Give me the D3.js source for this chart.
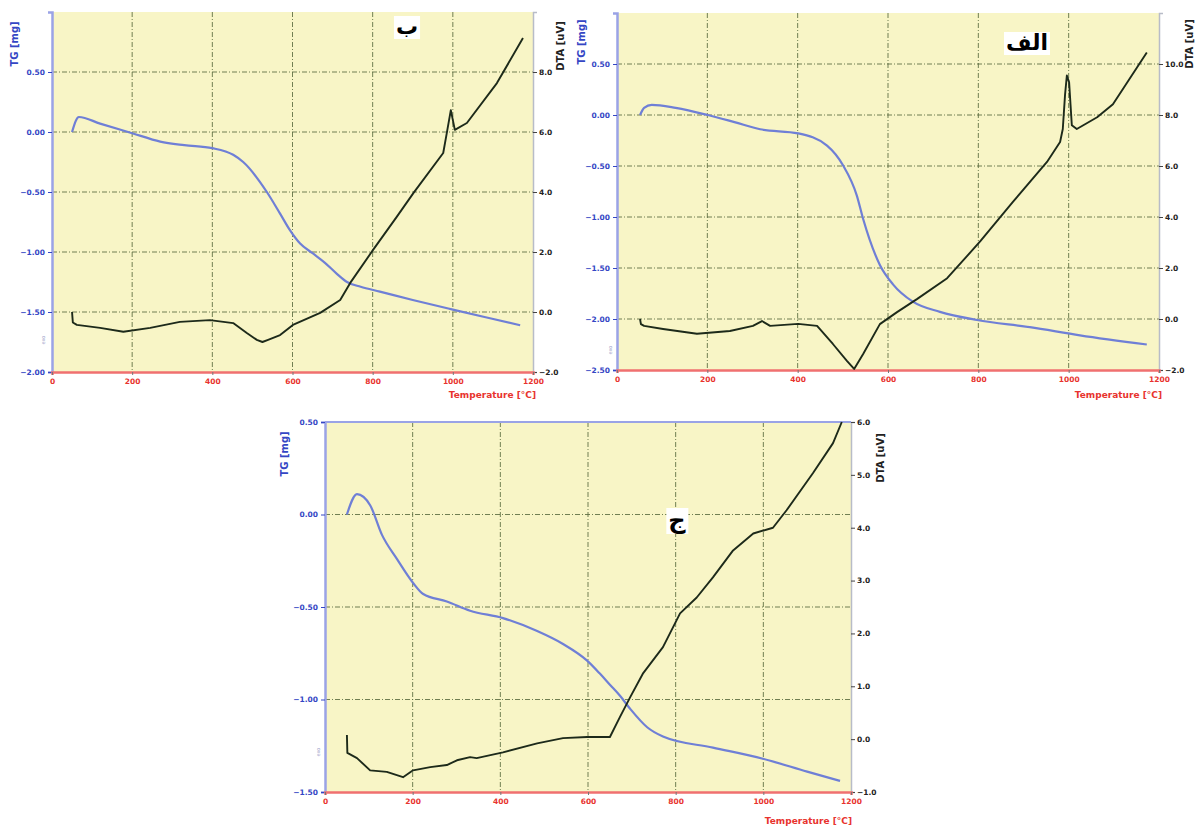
<!DOCTYPE html>
<html>
<head>
<meta charset="utf-8">
<script src="https://cdn.jsdelivr.net/npm/d3@7"></script>
<style>
  html, body { margin: 0; padding: 0; background: #ffffff; }
  svg { display: block; }
  text { font-family: "DejaVu Sans", "Liberation Sans", sans-serif; }
</style>
</head>
<body>
<svg id="chart" width="1201" height="828"></svg>
<script>
// ---------------- DATA ----------------
// Panel labels
const panelLabels = ["ب", "الف", "ج"];
const xTickValues = [0, 200, 400, 600, 800, 1000, 1200];
const xTitle = "Temperature [°C]";
const tgTitle = "TG [mg]";
const dtaTitle = "DTA [uV]";

// Panel ب (top-left)
const tgTicksB  = [-2.0, -1.5, -1.0, -0.5, 0.0, 0.5];
const dtaTicksB = [-2, 0, 2, 4, 6, 8];
const tgTempB = [50, 67, 120, 200, 270, 330, 400, 452, 477, 536, 569, 594, 619, 650, 681, 710, 736, 770, 818, 900, 1000, 1090, 1168];
const tgValB  = [0.00, 0.125, 0.07, -0.01, -0.08, -0.11, -0.135, -0.19, -0.25, -0.50, -0.68, -0.82, -0.93, -1.01, -1.09, -1.18, -1.25, -1.29, -1.33, -1.40, -1.48, -1.55, -1.61];
const dtaTempB = [50, 52, 62, 120, 178, 245, 319, 394, 452, 486, 511, 525, 539, 569, 601, 669, 719, 744, 801, 860, 902, 976, 985, 995, 1005, 1035, 1110, 1175];
const dtaValB  = [0.0, -0.35, -0.43, -0.53, -0.66, -0.53, -0.33, -0.27, -0.37, -0.70, -0.93, -1.0, -0.93, -0.77, -0.43, -0.03, 0.40, 0.97, 2.07, 3.17, 3.97, 5.30, 5.97, 6.73, 6.07, 6.30, 7.63, 9.13];

// Panel الف (top-right)
const tgTicksA  = [-2.5, -2.0, -1.5, -1.0, -0.5, 0.0, 0.5];
const dtaTicksA = [-2, 0, 2, 4, 6, 8, 10];
const tgTempA = [51, 60, 77, 130, 201, 260, 317, 401, 465, 500, 531, 545, 582, 611, 655, 715, 797, 914, 1025, 1173];
const tgValA  = [0.0, 0.07, 0.10, 0.07, 0.0, -0.07, -0.14, -0.18, -0.30, -0.49, -0.79, -1.02, -1.47, -1.66, -1.83, -1.93, -2.01, -2.08, -2.16, -2.25];
const dtaTempA = [51, 53, 60, 102, 177, 250, 301, 321, 339, 401, 443, 478, 509, 525, 545, 582, 620, 664, 731, 804, 877, 952, 981, 987, 992, 996, 1001, 1007, 1018, 1063, 1098, 1173];
const dtaValA  = [0.0, -0.2, -0.27, -0.39, -0.58, -0.47, -0.27, -0.08, -0.27, -0.19, -0.27, -0.98, -1.64, -1.96, -1.37, -0.2, 0.27, 0.78, 1.6, 3.04, 4.6, 6.16, 6.94, 7.45, 8.8, 9.55, 9.28, 7.6, 7.45, 7.91, 8.42, 10.45];

// Panel ج (bottom)
const tgTicksC  = [-1.5, -1.0, -0.5, 0.0, 0.5];
const dtaTicksC = [-1, 0, 1, 2, 3, 4, 5, 6];
const tgTempC = [50, 73, 103, 130, 164, 201, 224, 278, 331, 406, 484, 543, 598, 627, 650, 673, 696, 735, 771, 885, 999, 1100, 1175];
const tgValC  = [0.0, 0.11, 0.05, -0.11, -0.24, -0.37, -0.43, -0.47, -0.52, -0.56, -0.63, -0.70, -0.79, -0.86, -0.92, -0.98, -1.05, -1.15, -1.20, -1.26, -1.32, -1.39, -1.44];
const dtaTempC = [50, 51, 73, 103, 141, 178, 201, 240, 278, 301, 331, 346, 406, 484, 543, 598, 650, 673, 696, 726, 771, 810, 848, 885, 931, 977, 1022, 1053, 1113, 1159, 1179];
const dtaValC  = [0.08, -0.26, -0.36, -0.59, -0.62, -0.72, -0.59, -0.53, -0.49, -0.40, -0.34, -0.36, -0.25, -0.08, 0.02, 0.04, 0.04, 0.42, 0.79, 1.25, 1.74, 2.38, 2.68, 3.06, 3.57, 3.89, 4.0, 4.33, 5.03, 5.6, 6.0];

// ---------------- STYLE ----------------
const C = {
  plotBg: "#f8f5c6",
  grid: "#5a6b3e",
  tg: "#6f7fd6",
  dta: "#1d2a1a",
  leftAxis: "#9aa3e6",
  bottomAxis: "#f07070",
  rightAxis: "#b8bcc8",
  leftText: "#3446c4",
  bottomText: "#e8332e",
  rightText: "#222222"
};

const svg = d3.select("#chart");

function drawPanel(p) {
  const x = d3.scaleLinear().domain([0, 1200]).range([p.x0, p.x1]);
  const yL = d3.scaleLinear().domain(p.tgDomain).range([p.y1, p.y0]);
  const yR = d3.scaleLinear().domain(p.dtaDomain).range([p.y1, p.y0]);
  const g = svg.append("g");

  g.append("rect").attr("x", p.x0).attr("y", p.y0)
    .attr("width", p.x1 - p.x0).attr("height", p.y1 - p.y0)
    .attr("fill", C.plotBg);

  // grid
  g.append("g").selectAll("line").data(xTickValues.slice(1, -1)).join("line")
    .attr("x1", d => x(d)).attr("x2", d => x(d))
    .attr("y1", p.y0).attr("y2", p.y1)
    .attr("stroke", C.grid).attr("stroke-width", 1)
    .attr("stroke-dasharray", "5,2,1,2").attr("opacity", 0.85);
  g.append("g").selectAll("line").data(p.tgTicks.filter(v => v > p.tgDomain[0] && v < p.tgDomain[1])).join("line")
    .attr("x1", p.x0).attr("x2", p.x1)
    .attr("y1", d => yL(d)).attr("y2", d => yL(d))
    .attr("stroke", C.grid).attr("stroke-width", 1)
    .attr("stroke-dasharray", "5,2,1,2").attr("opacity", 0.85);

  // axes
  const axL = d3.axisLeft(yL).tickValues(p.tgTicks).tickFormat(d3.format(".2f")).tickSize(4).tickPadding(3);
  const axR = d3.axisRight(yR).tickValues(p.dtaTicks).tickFormat(d3.format(".1f")).tickSize(4).tickPadding(2);
  const axB = d3.axisBottom(x).tickValues(xTickValues).tickFormat(d3.format("d")).tickSize(3).tickPadding(4);

  const gL = g.append("g").attr("transform", `translate(${p.x0},0)`).call(axL);
  gL.select(".domain").attr("stroke", C.leftAxis).attr("stroke-width", 2.5);
  gL.selectAll(".tick line").attr("stroke", C.leftText);
  gL.selectAll(".tick text").attr("fill", C.leftText).attr("font-size", 7.5).attr("font-weight", "bold");

  const gR = g.append("g").attr("transform", `translate(${p.x1},0)`).call(axR);
  gR.select(".domain").attr("stroke", C.rightAxis).attr("stroke-width", 1.5);
  gR.selectAll(".tick line").attr("stroke", "#444");
  gR.selectAll(".tick text").attr("fill", C.rightText).attr("font-size", 7.5).attr("font-weight", "bold");

  const gB = g.append("g").attr("transform", `translate(0,${p.y1})`).call(axB);
  gB.select(".domain").attr("stroke", C.bottomAxis).attr("stroke-width", 2.5);
  gB.selectAll(".tick line").attr("stroke", "#777");
  gB.selectAll(".tick text").attr("fill", C.bottomText).attr("font-size", 7.5).attr("font-weight", "bold");

  if (p.topLine) {
    g.append("line").attr("x1", p.x0).attr("x2", p.x1).attr("y1", p.y0).attr("y2", p.y0)
      .attr("stroke", C.leftAxis).attr("stroke-width", 2);
  }

  // curves
  const tgPts = p.tgT.map((t, i) => [t, p.tgV[i]]);
  const dtaPts = p.dtaT.map((t, i) => [t, p.dtaV[i]]);
  g.append("path").datum(tgPts)
    .attr("d", d3.line().x(d => x(d[0])).y(d => yL(d[1])).curve(d3.curveMonotoneX))
    .attr("fill", "none").attr("stroke", C.tg).attr("stroke-width", 2.2).attr("stroke-linejoin", "round");
  g.append("path").datum(dtaPts)
    .attr("d", d3.line().x(d => x(d[0])).y(d => yR(d[1])).curve(d3.curveLinear))
    .attr("fill", "none").attr("stroke", C.dta).attr("stroke-width", 1.9).attr("stroke-linejoin", "round");

  // axis titles
  g.append("text").attr("transform", `translate(${p.tgTitleX},${p.tgTitleY}) rotate(-90)`)
    .attr("text-anchor", "middle").attr("fill", C.leftText)
    .attr("font-size", 10).attr("font-weight", "bold").text(tgTitle);
  g.append("text").attr("transform", `translate(${p.dtaTitleX},${p.dtaTitleY}) rotate(-90)`)
    .attr("text-anchor", "middle").attr("fill", C.rightText)
    .attr("font-size", 10).attr("font-weight", "bold").text(dtaTitle);
  g.append("text").attr("x", p.xTitleX).attr("y", p.xTitleY)
    .attr("text-anchor", "end").attr("fill", C.bottomText)
    .attr("font-size", 9).attr("font-weight", "bold").text(xTitle);

  // small exo marker
  g.append("text").attr("transform", `translate(${p.exoX},${p.exoY}) rotate(-90)`)
    .attr("text-anchor", "middle").attr("fill", "#9aa0c8")
    .attr("font-size", 5).text("exo");

  // panel label
  const lbl = g.append("text").attr("x", p.lblX).attr("y", p.lblY)
    .attr("text-anchor", "middle").attr("fill", "#000")
    .attr("font-size", p.lblSize).attr("font-weight", "bold").text(p.label);
  const bb = lbl.node().getBBox();
  g.insert("rect", () => lbl.node())
    .attr("x", bb.x - 2).attr("y", bb.y + 2).attr("width", bb.width + 4).attr("height", bb.height - 2)
    .attr("fill", "#ffffff");
}

drawPanel({
  label: panelLabels[0], lblX: 407, lblY: 34, lblSize: 22,
  x0: 52, x1: 533, y0: 12, y1: 372,
  tgDomain: [-2.0, 1.0], dtaDomain: [-2, 10],
  tgTicks: tgTicksB, dtaTicks: dtaTicksB,
  tgT: tgTempB, tgV: tgValB, dtaT: dtaTempB, dtaV: dtaValB,
  tgTitleX: 18, tgTitleY: 44, dtaTitleX: 564, dtaTitleY: 46,
  xTitleX: 536, xTitleY: 398, exoX: 45, exoY: 340, topLine: false
});

drawPanel({
  label: panelLabels[1], lblX: 1027, lblY: 50, lblSize: 22,
  x0: 617, x1: 1159, y0: 13, y1: 370,
  tgDomain: [-2.5, 1.0], dtaDomain: [-2, 12],
  tgTicks: tgTicksA, dtaTicks: dtaTicksA,
  tgT: tgTempA, tgV: tgValA, dtaT: dtaTempA, dtaV: dtaValA,
  tgTitleX: 585, tgTitleY: 42, dtaTitleX: 1193, dtaTitleY: 44,
  xTitleX: 1162, xTitleY: 398, exoX: 612, exoY: 350, topLine: false
});

drawPanel({
  label: panelLabels[2], lblX: 677, lblY: 528, lblSize: 24,
  x0: 325, x1: 851, y0: 422, y1: 792,
  tgDomain: [-1.5, 0.5], dtaDomain: [-1, 6],
  tgTicks: tgTicksC, dtaTicks: dtaTicksC,
  tgT: tgTempC, tgV: tgValC, dtaT: dtaTempC, dtaV: dtaValC,
  tgTitleX: 288, tgTitleY: 454, dtaTitleX: 884, dtaTitleY: 458,
  xTitleX: 852, xTitleY: 824, exoX: 320, exoY: 752, topLine: true
});
</script>
</body>
</html>
